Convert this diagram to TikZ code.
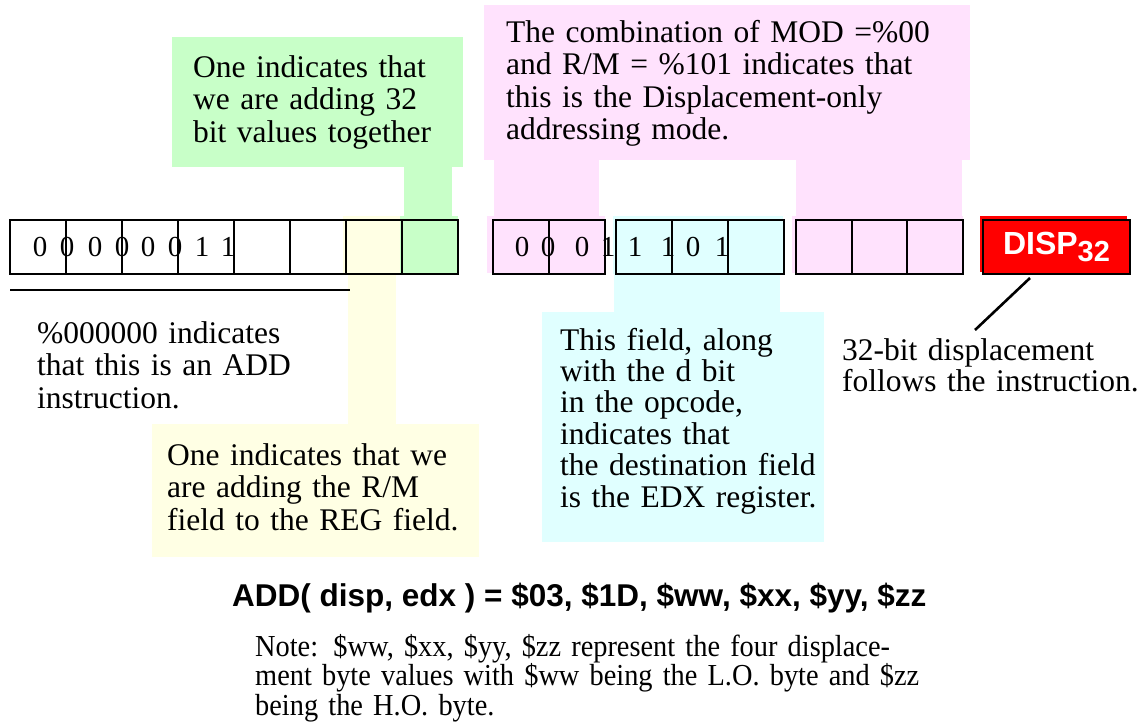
\documentclass[tikz,border=0pt]{standalone}
\usepackage{fontspec}
\setmainfont{Liberation Serif}
\newfontfamily\hv{Liberation Sans}
\newfontfamily\narrowserif[FakeStretch=0.93]{Liberation Serif}
\definecolor{gfill}{RGB}{200,255,200}
\definecolor{pfill}{RGB}{255,226,253}
\definecolor{yfill}{RGB}{255,255,228}
\definecolor{cfill}{RGB}{224,255,255}
\newcommand\bitfont{\fontsize{29}{29}\selectfont}
\begin{document}
\begin{tikzpicture}[x=1pt,y=-1pt,
  cell/.style={draw=black,line width=2.8pt},
  bitdigit/.style={anchor=base,inner sep=0pt},
  note/.style={anchor=base west,inner sep=0pt,align=left,text width=650pt,font=\fontsize{31.5}{32.5}\selectfont},
]
\useasboundingbox (0,0) rectangle (1141,726);
% backgrounds
\fill[gfill] (172,37) rectangle (463,167);
\fill[gfill] (404,166) rectangle (452,217);
\fill[gfill] (400,216) rectangle (458,273);
\fill[pfill] (484,5) rectangle (970,160);
\fill[pfill] (494,159) rectangle (599,217);
\fill[pfill] (796,159) rectangle (962,217);
\fill[pfill] (487,216) rectangle (605,273);
\fill[pfill] (792,216) rectangle (963,273);
\fill[yfill] (343,216) rectangle (400,273);
\fill[yfill] (348,272) rectangle (396,425);
\fill[yfill] (152,424) rectangle (479,557);
\fill[cfill] (613,216) rectangle (783,274);
\fill[cfill] (614,273) rectangle (780,313);
\fill[cfill] (542,312) rectangle (824,542);
\fill[red] (980,216) rectangle (1127,272);
% cells
\foreach \a/\b in {10/66,66/122,122/178,178/234,234/290,290/346,346/402,402/458,
  493/549,549/605,616/672,672/728,728/784,796/852,852/907,907/963}
  \draw[cell] (\a,220) rectangle (\b,274);
% digits
\foreach \x/\v [count=\i] in {40/0,67/0,95/0,122/0,148/0,175/0,202/1,228/1}
  \node[bitdigit] (da\i) at (\x,256) {\bitfont\v};
\foreach \x/\v [count=\i] in {522/0,548/0,582/0,608/1,635/1,668/1,693/0,722/1}
  \node[bitdigit] (db\i) at (\x,256) {\bitfont\v};
% displacement box
\node[draw=black,line width=2.8pt,fill=red,minimum width=147pt,minimum height=54pt,
  inner sep=0pt,text=white,font=\hv\bfseries\fontsize{32}{32}\selectfont]
  (disp) at (1056.5,247) {DISP\raisebox{-7pt}{\fontsize{29}{29}\selectfont 32}};
% annotations
\node[note] (green) at (193,77) {One indicates that\\we are adding 32\\bit values together};
\node[note] (pink) at (506,42) {The combination of MOD =\%00\\and R/M = \%101 indicates that\\this is the Displacement-only\\addressing mode.};
\node[note] (opc) at (37,343) {\%000000 indicates\\that this is an ADD\\instruction.};
\node[note] (yel) at (167,465) {One indicates that we\\are adding the R/M\\field to the REG field.};
\node[note,font=\fontsize{31.5}{31.4}\selectfont] (cya) at (560,350) {This field, along\\with the d bit\\in the opcode,\\indicates that\\the destination field\\is the EDX register.};
\node[note,font=\fontsize{31.5}{31}\selectfont] (dnote) at (842,360) {32-bit displacement\\follows the instruction.};
% underline and pointer
\coordinate (u1) at (10,290);
\coordinate (u2) at (350,290);
\draw[line width=2.2pt] (u1) -- (u2);
\coordinate (p1) at (1030,278);
\coordinate (p2) at (975,330);
\draw[line width=2.6pt] (p1) -- (p2);
% formula and note
\node[anchor=base west,inner sep=0pt,font=\hv\bfseries\fontsize{31.5}{31.5}\selectfont] (formula) at (232,606)
  {ADD( disp, edx ) = \$03, \$1D, \$ww, \$xx, \$yy, \$zz};
\node[note,text width=750pt,font=\narrowserif\fontsize{30.5}{29.5}\selectfont] (fnote) at (255,656)
  {Note: \$ww, \$xx, \$yy, \$zz represent the four displace-\\ment byte values with \$ww being the L.O. byte and \$zz\\being the H.O. byte.};
\end{tikzpicture}
\end{document}
